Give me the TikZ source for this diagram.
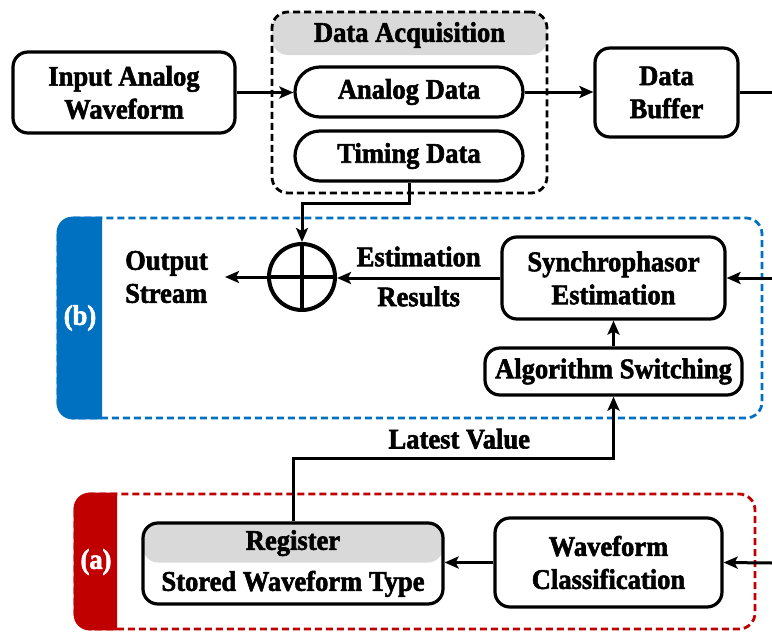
\documentclass[tikz,border=0pt]{standalone}
\usepackage{fontspec}
\setmainfont{Liberation Serif}[FakeStretch=0.935, BoldFeatures={FakeBold=2}]
\usetikzlibrary{arrows.meta,calc}
\definecolor{tabblue}{HTML}{0070C0}
\definecolor{tabred}{HTML}{C00000}
\definecolor{hdrgray}{HTML}{D9D9D9}
\begin{document}
\begin{tikzpicture}[x=1pt,y=-1pt,
  every node/.style={font=\fontsize{28.4}{33}\selectfont\bfseries, inner sep=0pt},
  box/.style={draw, line width=3.2pt, rounded corners=15pt, align=center},
  pill/.style={draw, line width=3.2pt, rounded corners=25pt, minimum width=228pt, minimum height=50pt},
  arr/.style={line width=3pt, -{Stealth[length=14pt,width=12pt,inset=3pt]}},
  conn/.style={line width=3pt},
  group/.style={line width=2.8pt, dash pattern=on 7pt off 4pt, rounded corners=16pt},
]
\useasboundingbox (0,0) rectangle (772,632);

% ---- group (b) ----
\draw[group, draw=tabblue] (58,218) rectangle (762,418);
\fill[tabblue] (102,216.6) [rounded corners=16pt] -- (56.6,216.6) -- (56.6,419.4) [sharp corners] -- (102,419.4) -- cycle;
\node[text=white] (labb) at (80,318) {(b)};

% ---- group (a) ----
\draw[group, draw=tabred] (75,494) rectangle (755,629);
\fill[tabred] (117,492.6) [rounded corners=16pt] -- (73.6,492.6) -- (73.6,630.4) [sharp corners] -- (117,630.4) -- cycle;
\node[text=white] (laba) at (96,562) {(a)};

% ---- data acquisition ----
\node[draw, group, minimum width=275pt, minimum height=181pt,
  path picture={\fill[hdrgray] (path picture bounding box.north west) rectangle ([yshift=-43pt]path picture bounding box.north east);}]
  (daq) at (409.5,102.5) {};
\node (daqt) at (409.5,35) {Data Acquisition};
\node[pill] (anl) at (409,92) {Analog Data};
\node[pill] (tim) at (409,156) {Timing Data};

% ---- top row ----
\node[box, minimum width=222pt, minimum height=81pt] (inp) at (124,92.5) {Input Analog\\Waveform};
\node[box, minimum width=143pt, minimum height=89pt] (buf) at (666.5,92.5) {Data\\Buffer};
\coordinate (bufout) at (772,92.5);

% ---- middle ----
\node[box, minimum width=223pt, minimum height=82pt] (syn) at (613.5,278) {Synchrophasor\\Estimation};
\node[box, minimum width=257pt, minimum height=47pt] (alg) at (613.5,371.5) {Algorithm Switching};
\node[draw, circle, line width=4pt, minimum size=66pt] (sum) at (302,277) {};
\draw[line width=3.4pt] (sum.north) -- (sum.south) (sum.west) -- (sum.east);
\node[align=left, anchor=west] (out) at (125,277) {Output\\Stream};
\coordinate (outend) at (225,277);
\coordinate (synin) at (772,278);

% ---- bottom ----
\node[box, minimum width=300pt, minimum height=81pt,
  path picture={\fill[hdrgray] (path picture bounding box.north west) rectangle ([yshift=-39.5pt]path picture bounding box.north east);}]
  (reg) at (293,563.5) {Register\\[8pt]Stored Waveform Type};
\node[box, minimum width=227pt, minimum height=89pt] (wav) at (608.5,562.5) {Waveform\\Classification};
\coordinate (wavin) at (772,563);

% ---- connectors ----
\draw[arr] (inp.east) -- (inp.east -| anl.west);
\draw[arr] (anl.east) -- (anl.east -| buf.west);
\draw[conn] (buf.east) -- (bufout);
\draw[arr] (tim.south) -- ++(0,21) -| (sum.north);
\draw[arr] (synin) -- (syn.east);
\draw[arr] (syn.west) -- (syn.west -| sum.east)
  node[midway, above=10pt] {Estimation}
  node[midway, below=7pt] {Results};
\draw[arr] (sum.west) -- (outend);
\draw[arr] (alg.north) -- (syn.south);
\draw[arr] (reg.north) -- ++(0,-63) -| (alg.south)
  node[pos=0.25, above=8pt, xshift=6pt] {Latest Value};
\draw[arr] (wavin) -- (wav.east);
\draw[arr] (wav.west) -- (wav.west -| reg.east);
\end{tikzpicture}
\end{document}
